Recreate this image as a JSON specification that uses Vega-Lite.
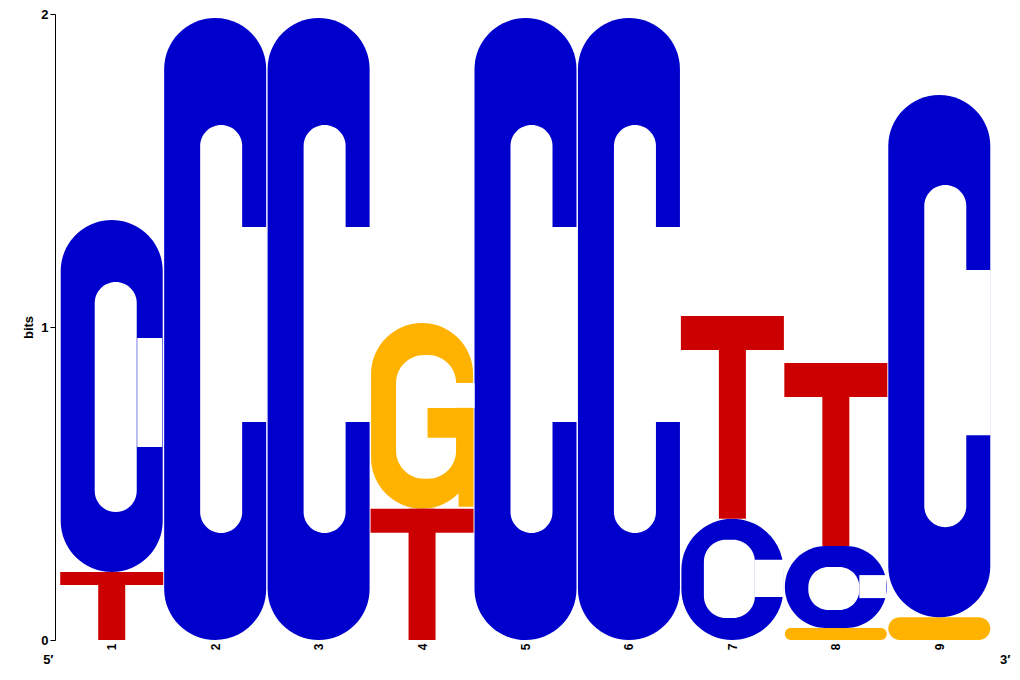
{
  "$schema": "https://vega.github.io/schema/vega-lite/v6.json",
  "width": 941,
  "height": 626,
  "autosize": "none",
  "padding": {"left": 55, "top": 14, "right": 24, "bottom": 40},
  "background": "white",
  "config": {
    "view": {"stroke": null},
    "font": "Liberation Sans",
    "axis": {"grid": false}
  },
  "title": {"text": "3′", "orient": "bottom", "anchor": "end", "align": "left", "dx": 4, "offset": -12, "fontSize": 13, "fontWeight": "bold", "color": "black"},
  "data": {
    "values": [
      {"pos": 1, "letter": "T", "bits": 0.217},
      {"pos": 1, "letter": "C", "bits": 1.125},
      {"pos": 2, "letter": "C", "bits": 1.987},
      {"pos": 3, "letter": "C", "bits": 1.987},
      {"pos": 4, "letter": "T", "bits": 0.419},
      {"pos": 4, "letter": "G", "bits": 0.594},
      {"pos": 5, "letter": "C", "bits": 1.987},
      {"pos": 6, "letter": "C", "bits": 1.987},
      {"pos": 7, "letter": "C", "bits": 0.387},
      {"pos": 7, "letter": "T", "bits": 0.648},
      {"pos": 8, "letter": "G", "bits": 0.038},
      {"pos": 8, "letter": "C", "bits": 0.262},
      {"pos": 8, "letter": "T", "bits": 0.585},
      {"pos": 9, "letter": "G", "bits": 0.073},
      {"pos": 9, "letter": "C", "bits": 1.668}
    ]
  },
  "transform": [
    {"stack": "bits", "groupby": ["pos"], "sort": [{"field": "bits", "order": "ascending"}], "as": ["lo", "hi"]}
  ],
  "encoding": {
    "x": {
      "field": "pos", "type": "quantitative",
      "scale": {"domain": [0.5, 9.5], "nice": false, "zero": false},
      "axis": {
        "values": [1, 2, 3, 4, 5, 6, 7, 8, 9], "format": "d", "labelAngle": -90,
        "domain": false, "ticks": false, "labelFontSize": 12, "labelFontWeight": "bold", "labelColor": "black", "labelPadding": 3,
        "title": "5′", "titleAnchor": "start", "titleAlign": "right", "titleBaseline": "alphabetic",
        "titleX": -2, "titleY": 23, "titleFontSize": 13, "titleFontWeight": "bold", "titleColor": "black"
      }
    },
    "y": {
      "field": "lo", "type": "quantitative", "title": "bits",
      "scale": {"domain": [0, 2], "nice": false},
      "axis": {
        "tickCount": 2, "format": "d", "tickSize": 5, "labelOverlap": false, "labelFlush": false,
        "labelFontSize": 13, "labelFontWeight": "bold", "labelColor": "black",
        "titleFontSize": 13, "titleFontWeight": "bold", "titleColor": "black",
        "domainColor": "black", "tickColor": "black", "labelPadding": 2, "titlePadding": 5
      }
    },
    "y2": {"field": "hi"}
  },
  "layer": [
    {
      "transform": [{"filter": "datum.letter !== 'T'"}],
      "mark": {"type": "bar", "width": 102, "cornerRadius": 51},
      "encoding": {
        "color": {
          "field": "letter", "type": "nominal", "legend": null,
          "scale": {"domain": ["A", "C", "G", "T"], "range": ["#00CC00", "#0000CC", "#FFB300", "#CC0000"]}
        }
      }
    },
    {
      "transform": [{"filter": "datum.letter === 'C' && datum.bits >= 1.9"}],
      "mark": {"type": "bar", "color": "white", "width": 42, "cornerRadius": 21, "xOffset": 6, "yOffset": -107, "y2Offset": 107}
    },
    {
      "transform": [{"filter": "datum.letter === 'C' && datum.bits >= 1.9"}],
      "mark": {"type": "bar", "color": "white", "width": 27, "xOffset": 38, "yOffset": -218, "y2Offset": 209}
    },
    {
      "transform": [{"filter": "datum.letter === 'C' && datum.bits >= 1.5 && datum.bits < 1.9"}],
      "mark": {"type": "bar", "color": "white", "width": 42, "cornerRadius": 21, "xOffset": 6, "yOffset": -90, "y2Offset": 90}
    },
    {
      "transform": [{"filter": "datum.letter === 'C' && datum.bits >= 1.5 && datum.bits < 1.9"}],
      "mark": {"type": "bar", "color": "white", "width": 27, "xOffset": 38, "yOffset": -182, "y2Offset": 175}
    },
    {
      "transform": [{"filter": "datum.letter === 'C' && datum.bits >= 1.0 && datum.bits < 1.5"}],
      "mark": {"type": "bar", "color": "white", "width": 42, "cornerRadius": 21, "xOffset": 4, "yOffset": -60, "y2Offset": 62}
    },
    {
      "transform": [{"filter": "datum.letter === 'C' && datum.bits >= 1.0 && datum.bits < 1.5"}],
      "mark": {"type": "bar", "color": "white", "width": 25, "xOffset": 38, "yOffset": -125, "y2Offset": 118}
    },
    {
      "transform": [{"filter": "datum.letter === 'C' && datum.bits >= 0.3 && datum.bits < 0.5"}],
      "mark": {"type": "bar", "color": "white", "width": 51, "cornerRadius": 22, "xOffset": -3, "yOffset": -22, "y2Offset": 21}
    },
    {
      "transform": [{"filter": "datum.letter === 'C' && datum.bits >= 0.3 && datum.bits < 0.5"}],
      "mark": {"type": "bar", "color": "white", "width": 29, "xOffset": 37, "yOffset": -43, "y2Offset": 41}
    },
    {
      "transform": [{"filter": "datum.letter === 'C' && datum.bits >= 0.2 && datum.bits < 0.3"}],
      "mark": {"type": "bar", "color": "white", "width": 51, "cornerRadius": 20, "xOffset": -2, "yOffset": -18, "y2Offset": 21}
    },
    {
      "transform": [{"filter": "datum.letter === 'C' && datum.bits >= 0.2 && datum.bits < 0.3"}],
      "mark": {"type": "bar", "color": "white", "width": 27, "xOffset": 37, "yOffset": -30, "y2Offset": 29}
    },
    {
      "transform": [{"filter": "datum.letter === 'G' && datum.bits >= 0.3"}],
      "mark": {"type": "bar", "color": "white", "width": 60, "cornerRadius": 28, "xOffset": 4, "yOffset": -30, "y2Offset": 32}
    },
    {
      "transform": [{"filter": "datum.letter === 'G' && datum.bits >= 0.3"}],
      "mark": {"type": "bar", "color": "white", "width": 25, "xOffset": 40, "yOffset": -101, "y2Offset": 60}
    },
    {
      "transform": [{"filter": "datum.letter === 'G' && datum.bits >= 0.3"}],
      "mark": {"type": "bar", "width": 45, "xOffset": 28, "yOffset": -71, "y2Offset": 85},
      "encoding": {"color": {"field": "letter", "type": "nominal", "legend": null}}
    },
    {
      "transform": [{"filter": "datum.letter === 'G' && datum.bits >= 0.3"}],
      "mark": {"type": "bar", "width": 15, "xOffset": 44, "yOffset": -2, "y2Offset": 85},
      "encoding": {"color": {"field": "letter", "type": "nominal", "legend": null}}
    },
    {
      "transform": [{"filter": "datum.letter === 'T'"}],
      "mark": {"type": "bar", "width": 27},
      "encoding": {"color": {"field": "letter", "type": "nominal", "legend": null}}
    },
    {
      "transform": [{"filter": "datum.letter === 'T' && datum.bits >= 0.5"}],
      "mark": {"type": "bar", "width": 103, "yOffset": 34},
      "encoding": {
        "y": {"field": "hi", "type": "quantitative", "title": "bits"},
        "y2": {"field": "hi"},
        "color": {"field": "letter", "type": "nominal", "legend": null}
      }
    },
    {
      "transform": [{"filter": "datum.letter === 'T' && datum.bits >= 0.3 && datum.bits < 0.5"}],
      "mark": {"type": "bar", "width": 103, "yOffset": 24},
      "encoding": {
        "y": {"field": "hi", "type": "quantitative", "title": "bits"},
        "y2": {"field": "hi"},
        "color": {"field": "letter", "type": "nominal", "legend": null}
      }
    },
    {
      "transform": [{"filter": "datum.letter === 'T' && datum.bits < 0.3"}],
      "mark": {"type": "bar", "width": 103, "yOffset": 13},
      "encoding": {
        "y": {"field": "hi", "type": "quantitative", "title": "bits"},
        "y2": {"field": "hi"},
        "color": {"field": "letter", "type": "nominal", "legend": null}
      }
    }
  ]
}
